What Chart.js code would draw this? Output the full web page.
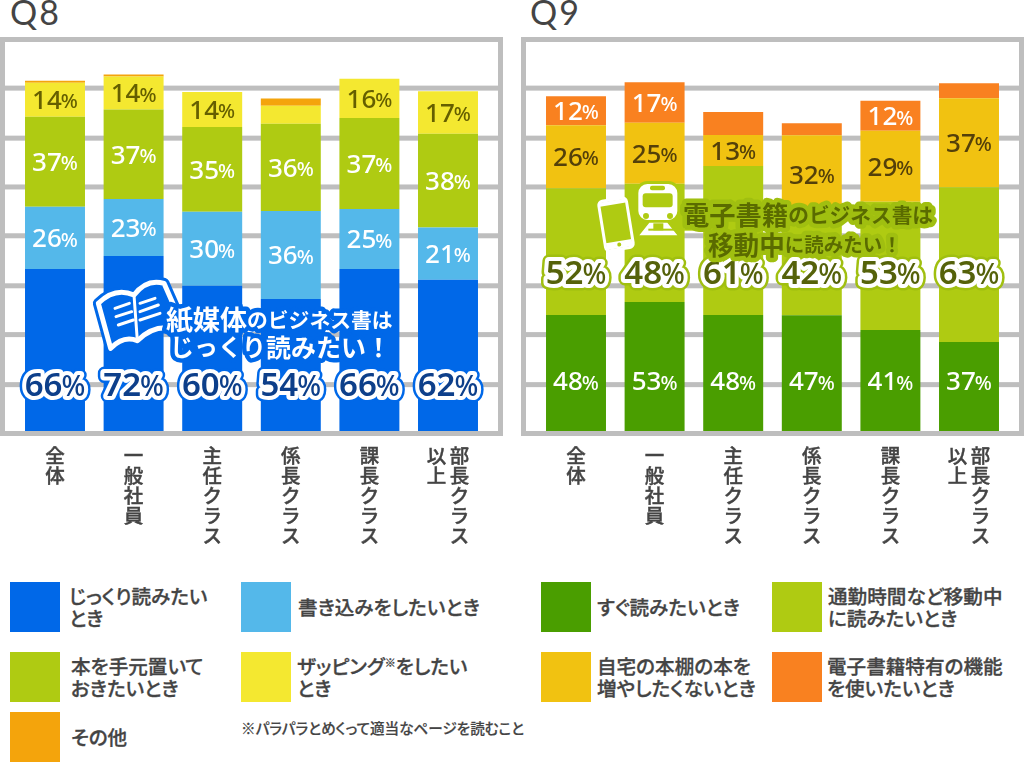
<!DOCTYPE html>
<html lang="ja">
<head>
<meta charset="utf-8">
<title>Q8 Q9</title>
<script src="https://cdn.jsdelivr.net/npm/chart.js@4"></script>
<style>
    html, body { margin: 0; padding: 0; background: white; }
    body { position: relative; width: 1024px; height: 762px; overflow: hidden; font-family: "Noto Sans CJK JP", sans-serif; color: #444; }
    canvas { position: absolute; top: 0; }
    .qtitle { position: absolute; top: -9px; font: 400 34px Lato, sans-serif; letter-spacing: 2px; color: #444; }
    .swatch { position: absolute; width: 50px; height: 50px; }
    .ltext { position: absolute; font-size: 19.6px; line-height: 22.5px; font-weight: 500; white-space: pre-line; font-feature-settings: "palt"; -webkit-text-stroke: 0.3px #444; }
    .ltext sup { font-size: 11px; line-height: 0; vertical-align: 7px; }
    .note { position: absolute; left: 241px; top: 717px; font-size: 14.6px; font-weight: 500; white-space: nowrap; font-feature-settings: "palt"; -webkit-text-stroke: 0.2px #444; }
</style>
</head>
<body>
<div class="qtitle" style="left:10px">Q8</div>
<div class="qtitle" style="left:530px">Q9</div>
<canvas id="q8chart" style="left:0"></canvas>
<canvas id="q9chart" style="left:512px"></canvas>
<div class="note">※パラパラとめくって適当なページを読むこと</div>

<script>
var categories = ["全体", "一般社員", "主任クラス", "係長クラス", "課長クラス", "部長クラス以上"];

// values, they round to the printed percentages
// Q8
var q8Deep = [66.4, 71.7, 59.5, 54.1, 66.4, 62];
var q8Write = [25.5, 23.4, 30.3, 36.1, 24.6, 21.4];
var q8Keep = [36.9, 36.6, 34.8, 35.7, 37.3, 38.4];
var q8Zapping = [13.9, 13.6, 14.3, 7.4, 16, 17.4];
var q8Other = [0.8, 0.8, 0, 2.9, 0, 0];
var q8Names = ["じっくり読みたい\nとき", "書き込みをしたいとき", "本を手元置いて\nおきたいとき", "ザッピング※をしたい\nとき", "その他"];

// Q9
var q9Now = [47.5, 52.9, 47.5, 47.4, 41.4, 36.5];
var q9Moving = [52, 48.4, 61.1, 41.9, 52.5, 63.4];
var q9Shelf = [25.8, 25, 12.7, 31.9, 29.1, 36.5];
var q9Ebook = [11.9, 16.6, 9.4, 4.9, 12.3, 6.1];
var q9Names = ["すぐ読みたいとき", "通勤時間など移動中\nに読みたいとき", "自宅の本棚の本を\n増やしたくないとき", "電子書籍特有の機能\nを使いたいとき"];

var gridValues = [19, 39.5, 59.5, 80, 100, 120, 140.5];

var BLUE = "#0068e8", SKY = "#54b8ea", LIME = "#afcb12", YELLOW = "#f4e830", AMBER = "#f4a40c";
var GREEN = "#4a9e00", GOLD = "#f1c211", ORANGE = "#f98120";
var GRAY = "#bebebe";
var FONT = '"Noto Sans CJK JP", sans-serif';

// frame and grey lines go all the way across, wider than the bars' chart area
const frameGrid = {
    id: "frameGrid",
    beforeDatasetsDraw(chart, args, opts) {
        const ctx = chart.ctx;
        ctx.save();
        ctx.fillStyle = GRAY;
        chart.scales.y.ticks.forEach((t) => {
            const y = chart.scales.y.getPixelForValue(t.value);
            ctx.fillRect(opts.left, y - 2.5, opts.right - opts.left, 5);
        });
        ctx.strokeStyle = GRAY;
        ctx.lineWidth = 5;
        ctx.strokeRect(opts.left + 2.5, 39.5, opts.right - opts.left - 5, 394);
        ctx.restore();
    }
};

// value labels on the bars
const barLabels = {
    id: "barLabels",
    afterDatasetsDraw(chart) {
        const ctx = chart.ctx;
        chart.data.datasets.forEach((ds, d) => {
            const meta = chart.getDatasetMeta(d);
            meta.data.forEach((bar, i) => {
                const v = Math.round(ds.data[i]);
                if (v < 10) return;
                const y = ds.labelY ? chart.scales.y.getPixelForValue(ds.labelY) : (bar.y + bar.base) / 2 + 2;
                const big = !!ds.halo;
                const numSize = big ? 33 : 26;
                const pctSize = big ? 28 : 20;
                const weight = big ? "600 " : "500 ";
                ctx.save();
                ctx.textBaseline = "middle";
                ctx.lineJoin = "round";
                ctx.font = weight + numSize + "px 'Noto Sans', sans-serif";
                const w1 = ctx.measureText(v).width - 1;
                ctx.font = "500 " + pctSize + "px 'Noto Sans', sans-serif";
                const w2 = ctx.measureText("%").width;
                const x0 = bar.x - (w1 + w2) / 2;
                const paint = (style, width) => {
                    ctx.font = weight + numSize + "px 'Noto Sans', sans-serif";
                    if (width) { ctx.strokeStyle = style; ctx.lineWidth = width; ctx.strokeText(v, x0, y); }
                    else { ctx.fillStyle = style; ctx.fillText(v, x0, y); }
                    ctx.font = "500 " + pctSize + "px 'Noto Sans', sans-serif";
                    if (width) ctx.strokeText("%", x0 + w1, y + 1);
                    else ctx.fillText("%", x0 + w1, y + 1);
                };
                if (big) {
                    paint(ds.halo, 13);
                    paint("white", 8);
                }
                paint(ds.labelColor);
                ctx.restore();
            });
        });
    }
};

// vertical category names below the frame
const tateLabels = {
    id: "tateLabels",
    afterDraw(chart) {
        const ctx = chart.ctx;
        ctx.save();
        ctx.font = "500 19.5px " + FONT;
        ctx.fillStyle = "#444";
        ctx.strokeStyle = "#444";
        ctx.lineWidth = 0.4;
        ctx.textAlign = "center";
        ctx.textBaseline = "middle";
        chart.data.labels.forEach((name, i) => {
            const x = chart.scales.x.getPixelForValue(i);
            const cols = name.length > 5 ? [name.slice(0, 5), name.slice(5)] : [name];
            cols.forEach((col, c) => {
                const cx = cols.length > 1 ? x + 11.5 - c * 23 : x;
                for (let k = 0; k < col.length; k++) {
                    ctx.fillText(col[k], cx, 456 + k * 20);
                    ctx.strokeText(col[k], cx, 456 + k * 20);
                }
            });
        });
        ctx.restore();
    }
};

function drawRuns(ctx, x, y, runs, fill, halo) {
    ctx.save();
    ctx.textBaseline = "middle";
    ctx.lineJoin = "round";
    [[halo, 9], [fill, 0]].forEach(([color, width]) => {
        let px = x;
        runs.forEach((r) => {
            ctx.font = "700 " + r[1] + "px " + FONT;
            if (width) { ctx.strokeStyle = color; ctx.lineWidth = width; ctx.strokeText(r[0], px, y); }
            else { ctx.fillStyle = color; ctx.fillText(r[0], px, y); }
            px += ctx.measureText(r[0]).width;
        });
    });
    ctx.restore();
}

function drawBook(ctx) {
    const P = (x, y) => [x / 3 + 90, y / 3 + 270];
    const page = () => {
        ctx.beginPath();
        ctx.moveTo(...P(25, 100));
        ctx.quadraticCurveTo(...P(75, 50), ...P(132, 75));
        ctx.quadraticCurveTo(...P(170, 25), ...P(222, 40));
        ctx.lineTo(...P(255, 115));
        ctx.lineTo(...P(245, 175));
        ctx.quadraticCurveTo(...P(190, 165), ...P(142, 212));
        ctx.quadraticCurveTo(...P(100, 195), ...P(62, 235));
        ctx.closePath();
    };
    ctx.save();
    ctx.lineJoin = "round";
    ctx.lineCap = "round";
    page();
    ctx.fillStyle = BLUE;
    ctx.fill();
    ctx.strokeStyle = BLUE;
    ctx.lineWidth = 11;
    ctx.stroke();
    ctx.strokeStyle = "white";
    ctx.lineWidth = 5;
    ctx.stroke();
    ctx.lineWidth = 3;
    [[75, 115, 118, 100], [78, 140, 125, 125], [85, 165, 130, 150], [150, 100, 195, 85], [150, 125, 205, 105], [150, 150, 210, 130], [132, 75, 142, 212]].forEach((l) => {
        ctx.beginPath();
        ctx.moveTo(...P(l[0], l[1]));
        ctx.lineTo(...P(l[2], l[3]));
        ctx.stroke();
    });
    ctx.restore();
}

function drawTrain(ctx) {
    // crop coordinates mapped to the canvas, which starts at x=512
    const X = (x) => x / 3 + 590 - 512, Y = (y) => y / 3 + 170;
    ctx.save();
    ctx.lineJoin = "round";
    // phone
    ctx.save();
    ctx.translate(X(78), Y(163));
    ctx.rotate(-0.16);
    ctx.beginPath();
    ctx.roundRect(-14, -25, 28, 50, 4);
    ctx.fillStyle = LIME;
    ctx.fill();
    ctx.strokeStyle = "white";
    ctx.lineWidth = 3;
    ctx.stroke();
    ctx.fillStyle = "white";
    ctx.fillRect(-13, 17, 26, 7);
    ctx.fillRect(-13, -24, 26, 4);
    ctx.fillStyle = LIME;
    ctx.beginPath();
    ctx.arc(0, 20.5, 2, 0, 7);
    ctx.fill();
    ctx.restore();
    // train body, with rails
    const shape = () => {
        ctx.beginPath();
        ctx.roundRect(X(145), Y(42), 39, 36, 9);
        ctx.moveTo(X(178), Y(158));
        ctx.lineTo(X(148), Y(196));
        ctx.lineTo(X(262), Y(196));
        ctx.lineTo(X(232), Y(158));
        ctx.closePath();
    };
    shape();
    ctx.strokeStyle = LIME;
    ctx.lineWidth = 6;
    ctx.stroke();
    ctx.fillStyle = "white";
    ctx.fill();
    ctx.fillStyle = LIME;
    ctx.beginPath();
    ctx.roundRect(X(158), Y(70), 30, 14, 3);
    ctx.fill();
    ctx.beginPath();
    ctx.roundRect(X(180), Y(47), 15, 4.5, 2);
    ctx.fill();
    ctx.beginPath();
    ctx.arc(X(168), Y(138), 3, 0, 7);
    ctx.arc(X(240), Y(138), 3, 0, 7);
    ctx.fill();
    ctx.fillRect(X(190), Y(160), 10, 7);
    ctx.fillRect(X(175), Y(176), 54, 2);
    ctx.restore();
}

const callout = {
    id: "callout",
    afterDraw(chart, args, opts) {
        const ctx = chart.ctx;
        if (opts.kind === "book") {
            drawBook(ctx);
            drawRuns(ctx, 166, 320, [["紙媒体", 27], ["のビジネス書は", 20.8]], "white", BLUE);
            drawRuns(ctx, 170, 347, [["じっくり", 24], ["読みたい！", 25]], "white", BLUE);
        } else {
            drawTrain(ctx);
            drawRuns(ctx, 683 - 512, 215, [["電子書籍", 26.3], ["のビジネス書は", 20.7]], "#5a6b00", "#a0bf10");
            drawRuns(ctx, 708 - 512, 245, [["移動中", 25.6], ["に読みたい！", 19.5]], "#5a6b00", "#a0bf10");
        }
    }
};

function makeChart(id, datasets, padLeft, padRight, frameLeft, frameRight, kind) {
    const canvas = document.getElementById(id);
    canvas.width = 512;
    canvas.height = 560;
    canvas.style.width = "512px";
    canvas.style.height = "560px";
    return new Chart(canvas, {
        type: "bar",
        data: { labels: categories, datasets: datasets },
        options: {
            responsive: false,
            animation: false,
            layout: { padding: { left: padLeft, right: padRight, top: 42, bottom: 129 } },
            categoryPercentage: 1,
            barPercentage: 0.763,
            plugins: {
                legend: { display: false },
                tooltip: { enabled: false },
                frameGrid: { left: frameLeft, right: frameRight },
                callout: { kind: kind }
            },
            scales: {
                x: { stacked: true, display: false },
                y: {
                    stacked: true,
                    display: false,
                    min: 0,
                    max: 159.4,
                    afterBuildTicks: (axis) => { axis.ticks = gridValues.map((v) => ({ value: v })); }
                }
            }
        },
        plugins: [frameGrid, barLabels, tateLabels, callout]
    });
}

makeChart("q8chart", [
    { label: q8Names[0], data: q8Deep, backgroundColor: BLUE, labelY: 18, labelColor: "#0d3f8a", halo: BLUE },
    { label: q8Names[1], data: q8Write, backgroundColor: SKY, labelColor: "white" },
    { label: q8Names[2], data: q8Keep, backgroundColor: LIME, labelColor: "white" },
    { label: q8Names[3], data: q8Zapping, backgroundColor: YELLOW, labelColor: "#655f00" },
    { label: q8Names[4], data: q8Other, backgroundColor: AMBER, labelColor: "white" }
], 15.7, 24.7, 0, 503, "book");

makeChart("q9chart", [
    { label: q9Names[0], data: q9Now, backgroundColor: GREEN, labelY: 19.7, labelColor: "white" },
    { label: q9Names[1], data: q9Moving, backgroundColor: LIME, labelY: 64, labelColor: "#55620a", halo: "#a0bf10" },
    { label: q9Names[2], data: q9Shelf, backgroundColor: GOLD, labelColor: "#54400a" },
    { label: q9Names[3], data: q9Ebook, backgroundColor: ORANGE, labelColor: "white" }
], 24.7, 15.7, 9, 512, "train");

// legends under the charts
function addLegend(names, colors, boxes) {
    names.forEach((name, i) => {
        const b = boxes[i];
        const sw = document.createElement("div");
        sw.className = "swatch";
        sw.style.left = b[0] + "px";
        sw.style.top = b[1] + "px";
        sw.style.background = colors[i];
        document.body.appendChild(sw);
        const t = document.createElement("div");
        t.className = "ltext";
        t.style.left = b[2] + "px";
        t.innerHTML = name.replace("※", "<sup>※</sup>");
        document.body.appendChild(t);
        t.style.top = (b[1] + 25 - t.offsetHeight / 2) + "px";
    });
}
addLegend(q8Names, [BLUE, SKY, LIME, YELLOW, AMBER], [[10, 582, 69], [241, 582, 298], [10, 652, 71], [241, 652, 297], [10, 712, 71]]);
addLegend(q9Names, [GREEN, LIME, GOLD, ORANGE], [[541, 582, 597], [772, 582, 828], [541, 652, 597], [772, 652, 827]]);
</script>
</body>
</html>
